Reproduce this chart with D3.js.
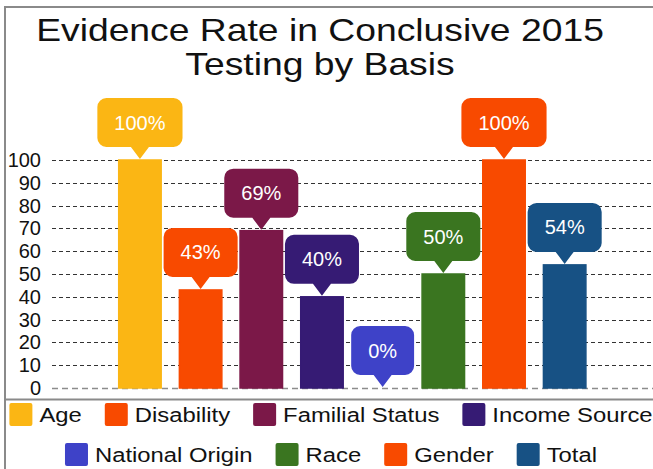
<!DOCTYPE html>
<html>
<head>
<meta charset="utf-8">
<script src="https://cdnjs.cloudflare.com/ajax/libs/d3/7.8.5/d3.min.js"></script>
<style>
  html, body { margin: 0; padding: 0; background: #fff; }
  svg { display: block; font-family: "Liberation Sans", Arial, sans-serif; }
</style>
</head>
<body>
<div id="chart"></div>
<script>
// Data
var categories = ["Age", "Disability", "Familial Status", "Income Source",
                  "National Origin", "Race", "Gender", "Total"];
var rates = [100, 43, 69, 40, 0, 50, 100, 54];
var colors = ["#fbb614", "#f84a00", "#7b1848", "#361b74",
              "#3e42c8", "#3a7520", "#f84a00", "#175184"];
var yTicks = [0, 10, 20, 30, 40, 50, 60, 70, 80, 90, 100];
var titleLines = ["Evidence Rate in Conclusive 2015", "Testing by Basis"];
var legendRows = [[0, 1, 2, 3], [4, 5, 6, 7]];

var width = 653, height = 469;

var svg = d3.select("#chart")
  .append("svg")
  .attr("width", width)
  .attr("height", height);

// frame
svg.append("path")
  .attr("d", "M5,469 V7 H653")
  .attr("fill", "none")
  .attr("stroke", "#8a8a8a")
  .attr("stroke-width", 2);
svg.append("line")
  .attr("x1", 5).attr("x2", width)
  .attr("y1", 399.5).attr("y2", 399.5)
  .attr("stroke", "#8a8a8a")
  .attr("stroke-width", 2);

// title (the original is stretched a bit horizontally)
var titleStretch = 1.165;
svg.selectAll("text.title")
  .data(titleLines)
  .enter().append("text")
  .attr("class", "title")
  .attr("transform", function(d, i) {
    return "translate(320," + (41 + i * 34) + ") scale(" + titleStretch + ",1)";
  })
  .attr("text-anchor", "middle")
  .style("font-size", "32px")
  .style("fill", "#111")
  .text(function(d) { return d; });

// scales
var x = d3.scaleBand()
  .domain(categories)
  .range([109.6, 595])
  .paddingInner(0.3)
  .paddingOuter(0.15);

var y = d3.scaleLinear()
  .domain([0, 100])
  .range([388, 160]);

// gridlines
svg.append("g")
  .selectAll("line")
  .data(yTicks)
  .enter().append("line")
  .attr("x1", 52)
  .attr("x2", width)
  .attr("y1", function(d) { return Math.round(y(d)) + 0.5; })
  .attr("y2", function(d) { return Math.round(y(d)) + 0.5; })
  .attr("stroke", function(d) { return d === 0 ? "#8c8c8c" : "#333"; })
  .attr("stroke-width", function(d) { return d === 0 ? 1.5 : 1; })
  .attr("stroke-dasharray", function(d) { return d === 0 ? "6,4" : "4,3"; });

// y axis
var yAxis = svg.append("g")
  .attr("transform", "translate(45,0)")
  .call(d3.axisLeft(y).tickValues(yTicks).tickSize(0).tickPadding(4));
yAxis.select(".domain").remove();
yAxis.selectAll("text")
  .style("font-size", "20px")
  .style("font-family", "'Liberation Sans', Arial, sans-serif")
  .style("fill", "#111");

// bars
svg.append("g")
  .selectAll("rect")
  .data(rates)
  .enter().append("rect")
  .attr("x", function(d, i) { return x(categories[i]); })
  .attr("y", function(d) { return y(d); })
  .attr("width", x.bandwidth())
  .attr("height", function(d) { return y(0) - y(d); })
  .attr("fill", function(d, i) { return colors[i]; })
  .attr("stroke", function(d, i) { return colors[i]; })
  .attr("stroke-width", 1.5);

// callouts
function calloutPath(cx, top, bottom, w, tip) {
  var r = 9, p = 9, l = cx - w / 2, rt = cx + w / 2;
  return "M" + (l + r) + "," + top +
    "H" + (rt - r) +
    "A" + r + "," + r + " 0 0 1 " + rt + "," + (top + r) +
    "V" + (bottom - r) +
    "A" + r + "," + r + " 0 0 1 " + (rt - r) + "," + bottom +
    "H" + (cx + p) +
    "L" + cx + "," + tip +
    "L" + (cx - p) + "," + bottom +
    "H" + (l + r) +
    "A" + r + "," + r + " 0 0 1 " + l + "," + (bottom - r) +
    "V" + (top + r) +
    "A" + r + "," + r + " 0 0 1 " + (l + r) + "," + top + "Z";
}

var callouts = svg.append("g")
  .selectAll("g")
  .data(rates)
  .enter().append("g");

callouts.each(function(d, i) {
  var g = d3.select(this);
  var cx = x(categories[i]) + x.bandwidth() / 2;
  var barTop = y(d);
  var label = g.append("text")
    .attr("x", cx)
    .attr("y", barTop - 37.5 + 7)
    .attr("text-anchor", "middle")
    .style("font-size", "20px")
    .style("fill", "#fff")
    .text(d + "%");
  var w = label.node().getComputedTextLength() + 34;
  g.insert("path", "text")
    .attr("d", calloutPath(cx, barTop - 62, barTop - 13, w, barTop - 1))
    .attr("fill", colors[i]);
});

// legend
var legendStretch = 1.135;
var swatch = 23, swGap = 7, itemGap = 23;
legendRows.forEach(function(row, ri) {
  var rowY = 403 + ri * 40;
  var g = svg.append("g");
  var cursor = 0;
  row.forEach(function(idx) {
    g.append("rect")
      .attr("x", cursor)
      .attr("y", rowY)
      .attr("width", swatch)
      .attr("height", swatch)
      .attr("rx", 2)
      .attr("fill", colors[idx]);
    cursor += swatch + swGap;
    var t = g.append("text")
      .attr("transform", "translate(" + cursor + "," + (rowY + 19) + ") scale(" + legendStretch + ",1)")
      .style("font-size", "21px")
      .style("fill", "#111")
      .text(categories[idx]);
    cursor += t.node().getComputedTextLength() * legendStretch + itemGap;
  });
  var rowWidth = cursor - itemGap;
  g.attr("transform", "translate(" + (331 - rowWidth / 2) + ",0)");
});
</script>
</body>
</html>
